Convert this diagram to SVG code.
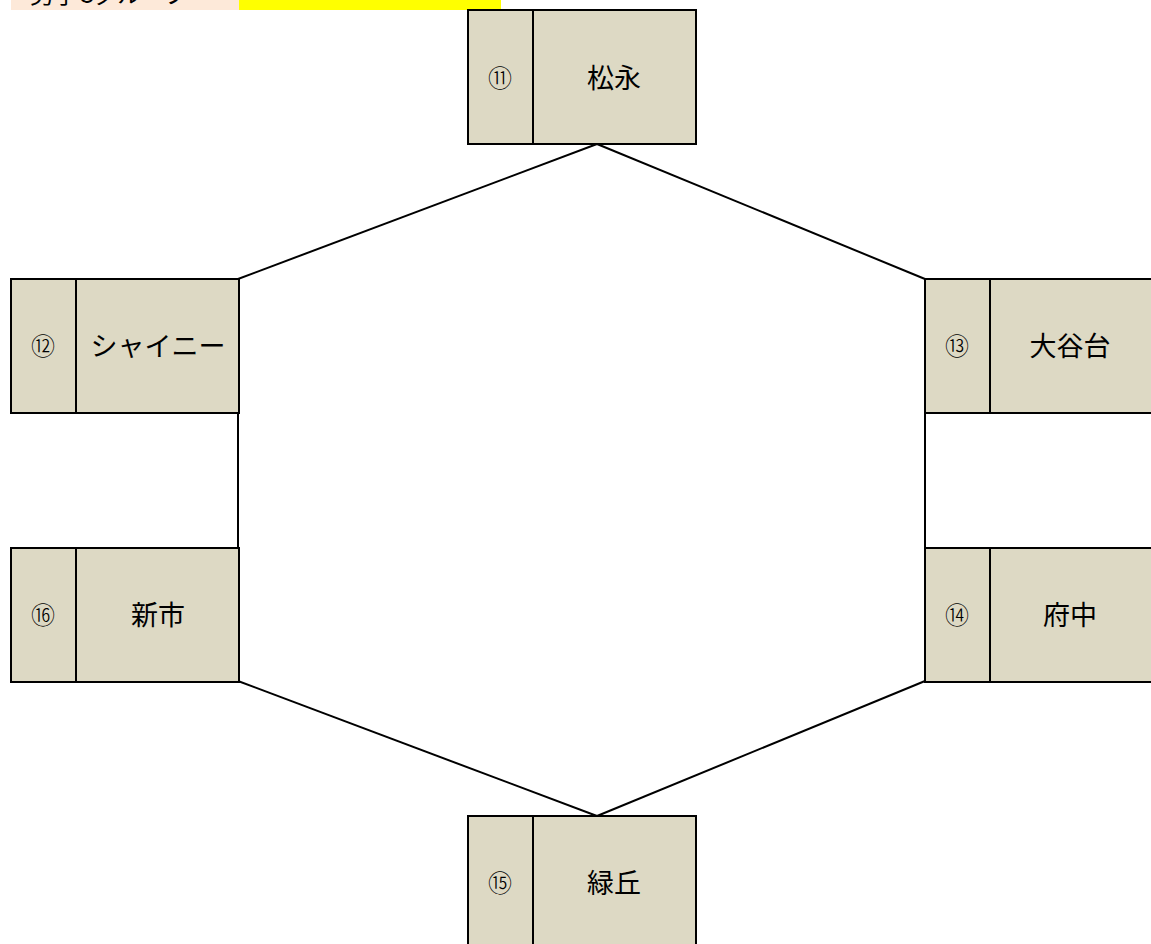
<svg xmlns="http://www.w3.org/2000/svg" width="1151" height="944" viewBox="0 0 1151 944">
<style>
.box{fill:#ddd9c4;stroke:#000;stroke-width:2}
.div{stroke:#000;stroke-width:2}
.num{font-family:"Noto Sans CJK JP",sans-serif;font-size:24px;fill:#000;text-anchor:middle;font-weight:300}
.name{font-family:"Noto Sans CJK JP",sans-serif;font-size:27px;fill:#000;text-anchor:middle}
.conn{stroke:#000;stroke-width:2;fill:none}
</style>
<rect x="0" y="0" width="1151" height="944" fill="#fff"/>
<g id="header">
<rect x="11" y="0" width="228" height="10" fill="#fde9d9"/>
<rect x="239" y="0" width="262" height="10" fill="#ffff00"/>
<text x="30" y="3" font-family="Noto Sans CJK JP,sans-serif" font-size="24" fill="#000">男子Cグループ</text>
</g>
<g id="connectors">
<line class="conn" x1="597" y1="144" x2="238" y2="279"/>
<line class="conn" x1="597" y1="144" x2="925" y2="279"/>
<line class="conn" x1="238" y1="412" x2="238" y2="548"/>
<line class="conn" x1="925" y1="412" x2="925" y2="548"/>
<line class="conn" x1="238" y1="681" x2="597" y2="816"/>
<line class="conn" x1="925" y1="681" x2="597" y2="816"/>
</g>
<g id="node11">
<rect class="box" x="468" y="10" width="228" height="134"/>
<line class="div" x1="533" y1="10" x2="533" y2="144"/>
<text class="num" x="500" y="87">⑪</text>
<text class="name" x="614" y="88">松永</text>
</g>
<g id="node12">
<rect class="box" x="11" y="279" width="228" height="134"/>
<line class="div" x1="76" y1="279" x2="76" y2="413"/>
<text class="num" x="43" y="355">⑫</text>
<text class="name" x="158" y="356">シャイニー</text>
</g>
<g id="node13">
<rect class="box" x="925" y="279" width="240" height="134"/>
<line class="div" x1="990" y1="279" x2="990" y2="413"/>
<text class="num" x="957" y="355">⑬</text>
<text class="name" x="1070" y="356">大谷台</text>
</g>
<g id="node16">
<rect class="box" x="11" y="548" width="228" height="134"/>
<line class="div" x1="76" y1="548" x2="76" y2="682"/>
<text class="num" x="43" y="624">⑯</text>
<text class="name" x="158" y="625">新市</text>
</g>
<g id="node14">
<rect class="box" x="925" y="548" width="240" height="134"/>
<line class="div" x1="990" y1="548" x2="990" y2="682"/>
<text class="num" x="957" y="624">⑭</text>
<text class="name" x="1070" y="625">府中</text>
</g>
<g id="node15">
<rect class="box" x="468" y="816" width="228" height="140"/>
<line class="div" x1="533" y1="816" x2="533" y2="956"/>
<text class="num" x="500" y="892">⑮</text>
<text class="name" x="614" y="893">緑丘</text>
</g>
</svg>
